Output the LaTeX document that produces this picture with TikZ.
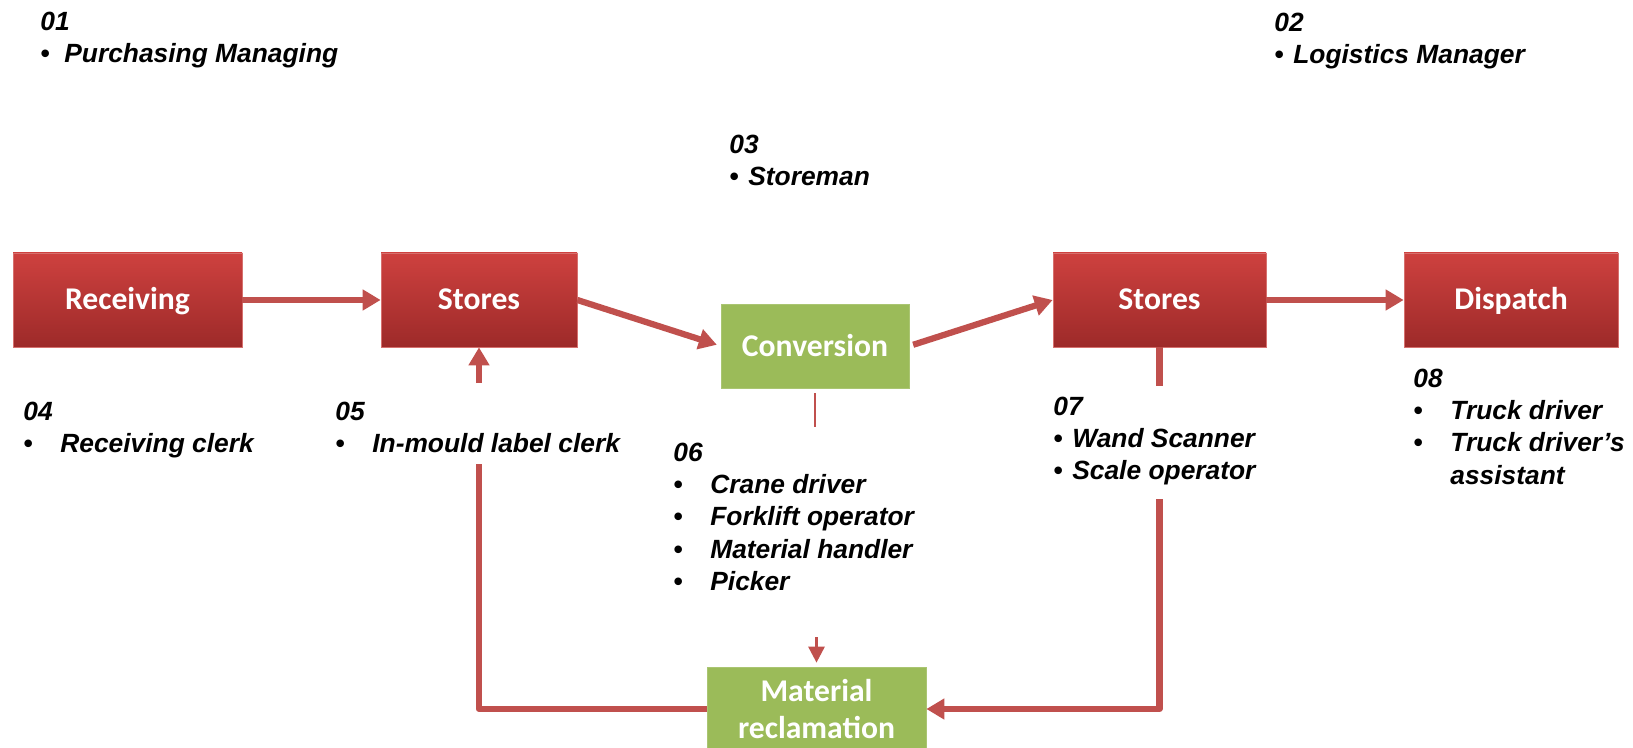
\documentclass[tikz,border=0pt]{standalone}
\usepackage{fontspec}
\setmainfont{Liberation Sans}
\newfontfamily\boxfont{Carlito}
\usepackage{tikz}
\usetikzlibrary{arrows.meta}
\definecolor{flowred}{RGB}{192,80,77}
\definecolor{boxtop}{RGB}{206,65,63}
\definecolor{boxbot}{RGB}{157,42,41}
\definecolor{boxline}{RGB}{214,112,110}
\definecolor{convgreen}{RGB}{155,187,89}
\tikzset{>={Triangle[length=3.6mm, width=4mm]}}
\tikzset{
  stage/.style={draw=boxline, line width=0.4pt, top color=boxtop, bottom color=boxbot,
    text=white, minimum height=1.88cm, text height=14.6pt, text depth=3.6pt,
    font=\boxfont\bfseries\fontsize{18}{21.6}\selectfont},
  rework/.style={draw=convgreen!85!white, line width=0.4pt, fill=convgreen,
    text=white, minimum height=1.68cm, align=center,
    font=\boxfont\bfseries\fontsize{18}{21.6}\selectfont},
  flow/.style={draw=flowred, line width=1.25mm, ->},
  feed/.style={draw=flowred, line width=1.25mm, line join=round},
  tap/.style={draw=flowred, line width=0.55mm},
  role/.style={anchor=north west, inner sep=0pt, align=left,
    font=\bfseries\itshape\fontsize{15}{18.4}\selectfont}
}
\newcommand{\tabbul}{\makebox[0.74cm][l]{\textbullet}}
\newcommand{\shortbul}[1][0.38cm]{\makebox[#1][l]{\textbullet}}

\begin{document}
\begin{tikzpicture}
    \useasboundingbox (0,0) rectangle (32.66,-14.96);

    % process chain
    \node[stage, minimum width=4.58cm] (rec) at (2.55,-6.0) {Receiving};
    \node[stage, minimum width=3.92cm] (st1) at (9.58,-6.0) {Stores};
    \node[rework, minimum width=3.76cm] (conv) at (16.3,-6.92) {Conversion};
    \node[stage, minimum width=4.26cm] (st2) at (23.19,-6.0) {Stores};
    \node[stage, minimum width=4.28cm] (dis) at (30.22,-6.0) {Dispatch};
    \node[rework, minimum width=4.38cm] (mat) at (16.33,-14.18) {Material\\reclamation};

    \draw[flow] (rec) -- (st1);
    \draw[flow, shorten >=0.8mm] (st1.east) -- (conv.west);
    \draw[flow, shorten <=0.8mm] (conv.east) -- (st2.west);
    \draw[flow] (st2) -- (dis);

    % loops through material reclamation
    \coordinate (lp1) at (9.58,-9.28);
    \coordinate (lp2) at (9.58,-7.66);
    \coordinate (rp1) at (23.19,-7.72);
    \coordinate (rp2) at (23.19,-9.98);
    \coordinate (cp1) at (16.3,-8.54);
    \coordinate (cp2) at (16.33,-12.74);

    \draw[feed] (mat.west) -| (lp1);
    \draw[flow] (lp2) -- (st1.south);
    \draw[feed] (st2.south) -- (rp1);
    \draw[flow, line join=round] (rp2) |- (mat.east);
    \draw[tap, shorten <=1mm] (conv.south) -- (cp1);
    \draw[tap, -{Triangle[length=3.2mm, width=3.2mm]}, shorten >=0.8mm] (cp2) -- (mat.north);

    % roles
    \node[role] (r01) at (0.80,-0.23) {01\\ \shortbul[0.48cm]Purchasing Managing};
    \node[role] (r02) at (25.48,-0.25) {02\\ \shortbul Logistics Manager};
    \node[role] (r03) at (14.58,-2.69) {03\\ \shortbul Storeman};
    \node[role] (r04) at (0.46,-8.03) {04\\ \tabbul Receiving clerk};
    \node[role] (r05) at (6.70,-8.03) {05\\ \tabbul In-mould label clerk};
    \node[role] (r06) at (13.46,-8.85) {06\\ \tabbul Crane driver\\ \tabbul Forklift operator\\
        \tabbul Material handler\\ \tabbul Picker};
    \node[role] (r07) at (21.06,-7.93) {07\\ \shortbul Wand Scanner\\ \shortbul Scale operator};
    \node[role] (r08) at (28.26,-7.37) {08\\ \tabbul Truck driver\\
        \tabbul Truck driver’s\\ \hspace*{0.74cm}assistant};
\end{tikzpicture}
\end{document}
